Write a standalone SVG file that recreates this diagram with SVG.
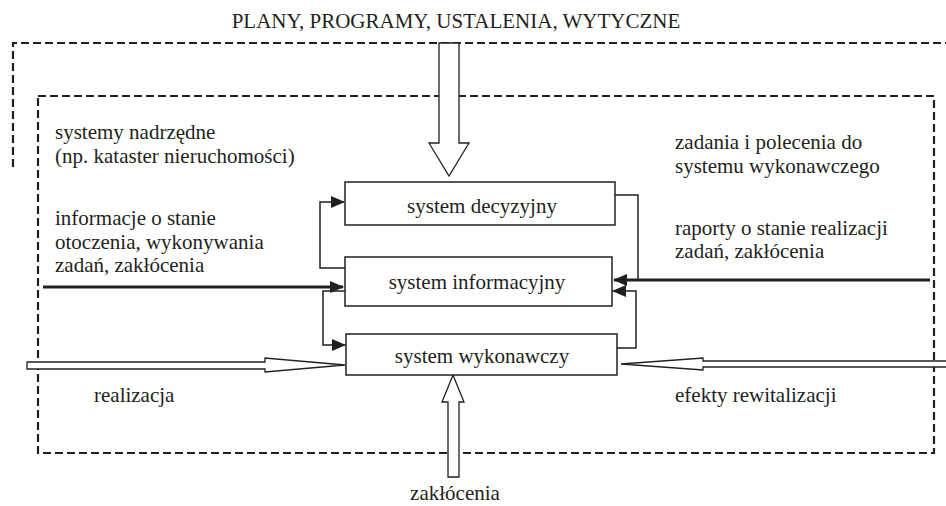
<svg xmlns="http://www.w3.org/2000/svg" width="946" height="506" viewBox="0 0 946 506">
<style>
text{font-family:"Liberation Serif","Times New Roman",serif;font-size:21px;fill:#231f20}
.box{fill:#fff;stroke:#231f20;stroke-width:1.5}
.dash{fill:none;stroke:#231f20;stroke-width:2.2;stroke-dasharray:8 4}
.thin{fill:none;stroke:#231f20;stroke-width:1.5}
.thick{fill:none;stroke:#231f20;stroke-width:3}
.hollow{fill:#fff;stroke:#231f20;stroke-width:1.3;stroke-linejoin:miter}
</style>
<defs>
<marker id="ah" markerUnits="userSpaceOnUse" markerWidth="14" markerHeight="12" refX="13" refY="6" orient="auto">
<path d="M0,0 L14,6 L0,12 Z" fill="#231f20"/>
</marker>
</defs>
<rect width="946" height="506" fill="#fff"/>
<g id="frames">
<path class="dash" d="M13,167 V43 H946"/>
<rect class="dash" x="38" y="96" width="896" height="357"/>
</g>
<g id="connectors">
<path class="thin" d="M345,268 H320 V202 H344" marker-end="url(#ah)"/>
<path class="thin" d="M346,291 H323 V345 H345" marker-end="url(#ah)"/>
<path class="thick" d="M43,287 H343" marker-end="url(#ah)"/>
<path class="thin" d="M615,195 H638 V280"/>
<path class="thick" d="M930,280 H614" marker-end="url(#ah)"/>
<path class="thin" d="M617,348 H636 V291 H613" marker-end="url(#ah)"/>
<path class="hollow" d="M439,43 H459 V143 H469 L449,176 L429,143 H439 Z"/>
<path class="hollow" d="M448,477 V402 H442 L453,375 L464,402 H459 V477 Z"/>
<path class="hollow" d="M27,362 H265 V358 L345,365 L265,372 V369 H27 Z"/>
<path class="hollow" d="M950,361 H703 V358 L621,364 L703,370 V367 H950 Z"/>
</g>
<g id="decision">
<rect class="box" x="345" y="182" width="270" height="43"/>
<text x="482" y="213" text-anchor="middle">system decyzyjny</text>
</g>
<g id="information">
<rect class="box" x="345" y="257" width="267" height="49"/>
<text x="477" y="289" text-anchor="middle">system informacyjny</text>
</g>
<g id="executive">
<rect class="box" x="346" y="334" width="271" height="41"/>
<text x="482" y="363" text-anchor="middle">system wykonawczy</text>
</g>
<g id="labels">
<text x="456" y="28" text-anchor="middle">PLANY, PROGRAMY, USTALENIA, WYTYCZNE</text>
<text x="55" y="139">systemy nadrzędne</text>
<text x="55" y="163">(np. kataster nieruchomości)</text>
<text x="675" y="149">zadania i polecenia do</text>
<text x="675" y="173">systemu wykonawczego</text>
<text x="55" y="225">informacje o stanie</text>
<text x="55" y="249">otoczenia, wykonywania</text>
<text x="55" y="272">zadań, zakłócenia</text>
<text x="675" y="235">raporty o stanie realizacji</text>
<text x="675" y="258">zadań, zakłócenia</text>
<text x="94" y="402">realizacja</text>
<text x="675" y="402">efekty rewitalizacji</text>
<text x="455" y="500" text-anchor="middle">zakłócenia</text>
</g>
</svg>
